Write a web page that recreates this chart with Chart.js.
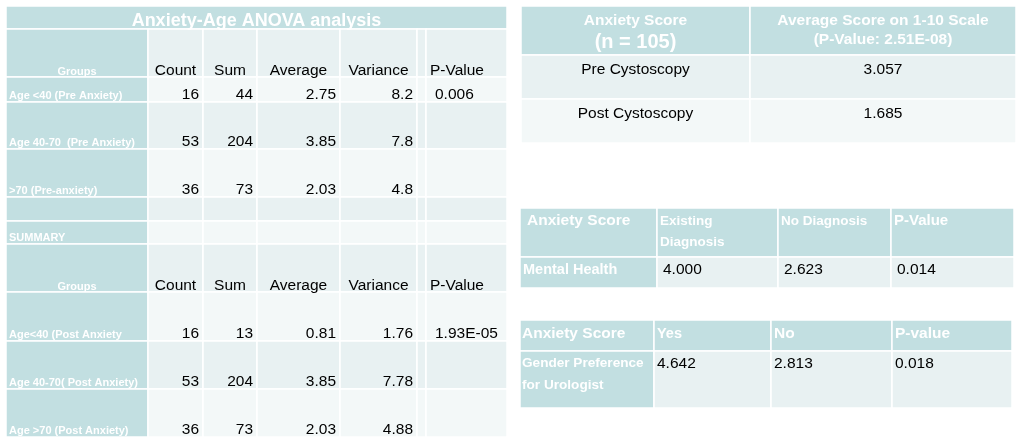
<!DOCTYPE html>
<html>
<head>
<meta charset="utf-8">
<script src="https://cdn.jsdelivr.net/npm/chart.js@4"></script>
<style>
  html, body { margin: 0; padding: 0; background: #fff; }
  body { width: 1023px; height: 447px; position: relative; overflow: hidden; }
  .tbl { position: absolute; }
</style>
</head>
<body>
<div class="tbl" style="left:6px;top:6px;width:501px;height:431px"><canvas id="anovaTable"></canvas></div>
<div class="tbl" style="left:521px;top:6px;width:495px;height:137px"><canvas id="cystoTable"></canvas></div>
<div class="tbl" style="left:520px;top:208px;width:494px;height:80px"><canvas id="mentalTable"></canvas></div>
<div class="tbl" style="left:520px;top:320px;width:492px;height:88px"><canvas id="genderTable"></canvas></div>
<script>
// ---- data ----
const anovaTitle = 'Anxiety-Age ANOVA analysis';
const anovaColumns = ['Count', 'Sum', 'Average', 'Variance', 'P-Value'];
const groupsLabel = 'Groups';
const summaryLabel = 'SUMMARY';

const preGroups = ['Age <40 (Pre Anxiety)', 'Age 40-70  (Pre Anxiety)', '>70 (Pre-anxiety)'];
const preCount = [16, 53, 36];
const preSum = [44, 204, 73];
const preAverage = [2.75, 3.85, 2.03];
const preVariance = [8.2, 7.8, 4.8];
const prePValue = ['0.006', '', ''];

const postGroups = ['Age<40 (Post Anxiety', 'Age 40-70( Post Anxiety)', 'Age >70 (Post Anxiety)'];
const postCount = [16, 53, 36];
const postSum = [13, 204, 73];
const postAverage = [0.81, 3.85, 2.03];
const postVariance = [1.76, 7.78, 4.88];
const postPValue = ['1.93E-05', '', ''];

const cystoHeader = [['Anxiety Score', '(n = 105)'], ['Average Score on 1-10 Scale', '(P-Value: 2.51E-08)']];
const cystoLabels = ['Pre Cystoscopy', 'Post Cystoscopy'];
const cystoScores = [3.057, 1.685];

const mentalHeader = [['Anxiety Score'], ['Existing', 'Diagnosis'], ['No Diagnosis'], ['P-Value']];
const mentalLabel = 'Mental Health';
const mentalScores = [4.000, 2.623];
const mentalPValue = 0.014;

const genderHeader = ['Anxiety Score', 'Yes', 'No', 'P-value'];
const genderLabel = ['Gender Preference', 'for Urologist'];
const genderScores = [4.642, 2.813];
const genderPValue = 0.018;

// ---- layout / style ----
const TEAL = '#c2dfe1';
const BAND_A = '#e8f1f2';
const BAND_B = '#f3f8f8';
const FAM = '"Liberation Sans", Arial, Helvetica, sans-serif';
const f = (size, bold) => (bold ? 'bold ' : '') + size + 'px ' + FAM;

function cell(r0, c0, r1, c1, fill) { return {r0, c0, r1, c1, fill}; }
function txt(x, y, text, font, color, align) { return {x, y, text, font, color: color || '#000', align: align || 'left'}; }

function drawTable(canvasId, cols, rows, cells, texts) {
  const W = cols[cols.length - 1], H = rows[rows.length - 1];
  const cellPlugin = {
    id: 'cellPlugin',
    beforeDatasetsDraw(chart) {
      const {ctx, scales: {x, y}} = chart;
      ctx.save();
      cells.forEach(c => {
        const x0 = x.getPixelForValue(cols[c.c0]), x1 = x.getPixelForValue(cols[c.c1]);
        const y0 = y.getPixelForValue(rows[c.r0]), y1 = y.getPixelForValue(rows[c.r1]);
        ctx.fillStyle = c.fill;
        ctx.fillRect(x0, y0, x1 - x0, y1 - y0);
        ctx.strokeStyle = '#fff';
        ctx.lineWidth = 1.5;
        ctx.strokeRect(x0, y0, x1 - x0, y1 - y0);
      });
      ctx.restore();
    },
    afterDatasetsDraw(chart) {
      const ctx = chart.ctx;
      const ds = chart.data.datasets[0];
      chart.getDatasetMeta(0).data.forEach((pt, i) => {
        const item = ds.data[i];
        ctx.save();
        ctx.font = item.font;
        ctx.fillStyle = item.color;
        ctx.textAlign = item.align;
        ctx.textBaseline = 'alphabetic';
        ctx.fillText(item.text, pt.x, pt.y);
        ctx.restore();
      });
    }
  };
  new Chart(document.getElementById(canvasId), {
    type: 'scatter',
    data: {datasets: [{data: texts, pointRadius: 0, pointHoverRadius: 0, clip: false}]},
    options: {
      responsive: true,
      maintainAspectRatio: false,
      animation: false,
      events: [],
      layout: {padding: 0},
      plugins: {legend: {display: false}, tooltip: {enabled: false}},
      scales: {
        x: {type: 'linear', min: 0, max: W, display: false},
        y: {type: 'linear', min: 0, max: H, reverse: true, display: false}
      }
    },
    plugins: [cellPlugin]
  });
}

// ---- ANOVA table ----
const anovaCols = [0, 142, 197, 251, 334, 411, 420, 501];
const anovaRows = [0, 23, 71, 96, 143, 191, 215, 238, 286, 335, 383, 431];
const anovaCells = [cell(0, 0, 1, 7, TEAL)];
for (let r = 1; r < anovaRows.length - 1; r++) {
  anovaCells.push(cell(r, 0, r + 1, 1, TEAL));
  const band = r % 2 === 1 ? BAND_A : BAND_B;
  for (let c = 1; c < 7; c++) anovaCells.push(cell(r, c, r + 1, c + 1, band));
}
const anovaTexts = [txt(250.5, 20, anovaTitle, f(18, true), '#fff', 'center')];
[1, 7].forEach(r => {
  const base = anovaRows[r + 1] - 2.5;
  anovaTexts.push(txt(71, anovaRows[r + 1] - 2.5, groupsLabel, f(11, true), '#fff', 'center'));
  for (let k = 0; k < 4; k++) {
    anovaTexts.push(txt((anovaCols[k + 1] + anovaCols[k + 2]) / 2, base, anovaColumns[k], f(15.5), '#000', 'center'));
  }
  anovaTexts.push(txt(anovaCols[6] + 4, base, anovaColumns[4], f(15.5), '#000', 'left'));
});
function anovaRow(r, label, count, sum, avg, variance, pval) {
  const bottom = anovaRows[r + 1];
  anovaTexts.push(txt(3, bottom - 3, label, f(11, true), '#fff', 'left'));
  const base = bottom - 3;
  [count, sum, avg, variance].forEach((v, k) => {
    anovaTexts.push(txt(anovaCols[k + 2] - 4, base, String(v), f(15.5), '#000', 'right'));
  });
  if (pval) anovaTexts.push(txt(anovaCols[6] + 9, base, pval, f(15.5), '#000', 'left'));
}
preGroups.forEach((g, i) => anovaRow(2 + i, g, preCount[i], preSum[i], preAverage[i], preVariance[i], prePValue[i]));
postGroups.forEach((g, i) => anovaRow(8 + i, g, postCount[i], postSum[i], postAverage[i], postVariance[i], postPValue[i]));
anovaTexts.push(txt(3, anovaRows[7] - 3, summaryLabel, f(11, true), '#fff', 'left'));
drawTable('anovaTable', anovaCols, anovaRows, anovaCells, anovaTexts);

// ---- Cystoscopy table ----
const cystoCols = [0, 229, 495];
const cystoRows = [0, 49, 93, 137];
const cystoCells = [
  cell(0, 0, 1, 1, TEAL), cell(0, 1, 1, 2, TEAL),
  cell(1, 0, 2, 1, BAND_A), cell(1, 1, 2, 2, BAND_A),
  cell(2, 0, 3, 1, BAND_B), cell(2, 1, 3, 2, BAND_B)
];
const c0 = (cystoCols[0] + cystoCols[1]) / 2, c1 = (cystoCols[1] + cystoCols[2]) / 2;
const cystoTexts = [
  txt(c0, 18.5, cystoHeader[0][0], f(15.5, true), '#fff', 'center'),
  txt(c0, 41.5, cystoHeader[0][1], f(20, true), '#fff', 'center'),
  txt(c1, 18.5, cystoHeader[1][0], f(15.5, true), '#fff', 'center'),
  txt(c1, 37.5, cystoHeader[1][1], f(15.5, true), '#fff', 'center')
];
cystoLabels.forEach((l, i) => {
  const base = cystoRows[i + 1] + 19;
  cystoTexts.push(txt(c0, base, l, f(15.5), '#000', 'center'));
  cystoTexts.push(txt(c1, base, cystoScores[i].toFixed(3), f(15.5), '#000', 'center'));
});
drawTable('cystoTable', cystoCols, cystoRows, cystoCells, cystoTexts);

// ---- Mental health table ----
const mentalCols = [0, 137, 258, 371, 494];
const mentalRows = [0, 49, 80];
const mentalCells = [];
for (let c = 0; c < 4; c++) {
  mentalCells.push(cell(0, c, 1, c + 1, TEAL));
  mentalCells.push(cell(1, c, 2, c + 1, c === 0 ? TEAL : BAND_A));
}
const mentalHeadFont = [f(15.5, true), f(13.5, true), f(13.5, true), f(15, true)];
const mentalTexts = [];
mentalHeader.forEach((lines, c) => {
  lines.forEach((l, j) => {
    mentalTexts.push(txt(mentalCols[c] + (c === 0 ? 7 : 3), 16.5 + j * 21.5, l, mentalHeadFont[c], '#fff', 'left'));
  });
});
mentalTexts.push(txt(3, 66, mentalLabel, f(14.5, true), '#fff', 'left'));
mentalScores.concat([mentalPValue]).forEach((v, k) => {
  mentalTexts.push(txt(mentalCols[k + 1] + 6, 66, v.toFixed(3), f(15.5), '#000', 'left'));
});
drawTable('mentalTable', mentalCols, mentalRows, mentalCells, mentalTexts);

// ---- Gender preference table ----
const genderCols = [0, 134, 251, 372, 492];
const genderRows = [0, 31, 88];
const genderCells = [];
for (let c = 0; c < 4; c++) {
  genderCells.push(cell(0, c, 1, c + 1, TEAL));
  genderCells.push(cell(1, c, 2, c + 1, c === 0 ? TEAL : BAND_A));
}
const genderTexts = [];
genderHeader.forEach((h, c) => {
  genderTexts.push(txt(genderCols[c] + (c === 0 ? 2 : 3), 17.5, h, f(c === 1 ? 14.5 : 15.5, true), '#fff', 'left'));
});
genderLabel.forEach((l, j) => {
  genderTexts.push(txt(2, 47 + j * 22, l, f(13.6, true), '#fff', 'left'));
});
genderScores.concat([genderPValue]).forEach((v, k) => {
  genderTexts.push(txt(genderCols[k + 1] + 3, 47.5, v.toFixed(3), f(15.5), '#000', 'left'));
});
drawTable('genderTable', genderCols, genderRows, genderCells, genderTexts);
</script>
</body>
</html>
